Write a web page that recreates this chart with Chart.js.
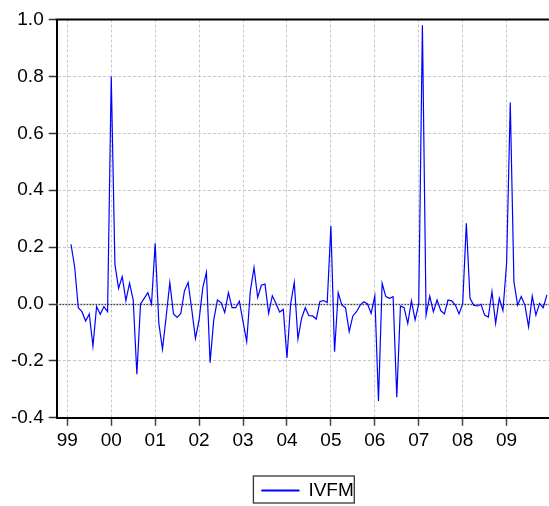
<!DOCTYPE html>
<html>
<head>
<meta charset="utf-8">
<title>IVFM</title>
<script src="https://cdn.jsdelivr.net/npm/chart.js@4.4.1/dist/chart.umd.min.js"></script>
<style>
    html, body { margin:0; padding:0; background:#fff; }
    #wrap { width:549px; height:506px; }
</style>
</head>
<body>
<div id="wrap"><canvas id="myChart" width="549" height="506"></canvas></div>
<script>
// x axis: one label per year, month 0 = 1999M01
var yearLabels = ['99','00','01','02','03','04','05','06','07','08','09']
var monthsPerYear = 12
// first observation is 1999M02
var firstMonth = 1

// IVFM, monthly, 1999M02 .. 2009M12
var ivfm = [
    0.21, 0.131, -0.013, -0.027, -0.06, -0.035, -0.148, -0.009, -0.036, -0.009, -0.027,          // 1999
    0.80, 0.14, 0.055, 0.096, 0.012, 0.073, 0.014, -0.247, 0.0, 0.02, 0.04, 0.0,                  // 2000
    0.213, -0.068, -0.159, -0.045, 0.075, -0.035, -0.047, -0.033, 0.046, 0.076, -0.02, -0.121,    // 2001
    -0.056, 0.057, 0.111, -0.206, -0.056, 0.014, 0.005, -0.03, 0.04, -0.013, -0.013, 0.01,        // 2002
    -0.062, -0.132, 0.046, 0.128, 0.023, 0.066, 0.07, -0.033, 0.029, 0.002, -0.028, -0.019,       // 2003
    -0.19, 0.0, 0.076, -0.123, -0.05, -0.013, -0.041, -0.042, -0.053, 0.009, 0.012, 0.005,        // 2004
    0.274, -0.168, 0.04, -0.004, -0.013, -0.097, -0.042, -0.027, -0.004, 0.008, 0.0, -0.033,      // 2005
    0.028, -0.341, 0.073, 0.026, 0.02, 0.026, -0.328, -0.007, -0.013, -0.068, 0.011, -0.056,      // 2006
    0.0, 0.98, -0.039, 0.028, -0.027, 0.014, -0.023, -0.035, 0.014, 0.011, -0.004, -0.035,        // 2007
    0.0, 0.284, 0.02, -0.004, -0.007, -0.001, -0.039, -0.046, 0.043, -0.068, 0.02, -0.023,        // 2008
    0.143, 0.708, 0.078, -0.004, 0.026, -0.004, -0.08, 0.028, -0.039, 0.002, -0.013, 0.032        // 2009
]

// y axis range
var yMin = -0.4
var yMax = 1.0
var yStep = 0.2

var points = ivfm.map(function(v, i){ return {x: firstMonth + i, y: v} })

Chart.defaults.font.family = "'Liberation Sans', Arial, sans-serif"
Chart.defaults.color = '#000'

// zero line, top border and the box round the legend
var frame = {
    id: 'frame',
    afterLayout: function(chart){
        chart.legend.left += 5
        chart.legend.right += 5
    },
    beforeDatasetsDraw: function(chart){
        var ctx = chart.ctx
        var a = chart.chartArea
        var y0 = Math.round(chart.scales.y.getPixelForValue(0)) + 0.5
        ctx.save()
        ctx.strokeStyle = '#cfcfcf'
        ctx.lineWidth = 2
        ctx.beginPath(); ctx.moveTo(a.left, y0); ctx.lineTo(a.right, y0); ctx.stroke()
        ctx.strokeStyle = '#000'
        ctx.lineWidth = 1
        ctx.setLineDash([1, 2])
        ctx.beginPath(); ctx.moveTo(a.left, y0); ctx.lineTo(a.right, y0); ctx.stroke()
        ctx.restore()
    },
    afterDraw: function(chart){
        var ctx = chart.ctx
        var a = chart.chartArea
        ctx.save()
        ctx.strokeStyle = '#000'
        ctx.lineWidth = 2
        ctx.beginPath(); ctx.moveTo(a.left - 1, a.top); ctx.lineTo(a.right, a.top); ctx.stroke()
        var hb = chart.legend.legendHitBoxes[0]
        if (hb) {
            var cy = hb.top + hb.height / 2
            ctx.strokeStyle = '#333'
            ctx.lineWidth = 1.3
            ctx.strokeRect(hb.left - 8.5, cy - 14.5, hb.width + 9, 27)
        }
        ctx.restore()
    }
}

var ctx = document.getElementById('myChart').getContext('2d')
var chart1 = new Chart(ctx, {
    type: 'line',
    plugins: [frame],
    data: {
        datasets: [{
            label: 'IVFM',
            data: points,
            borderColor: '#0000ff',
            backgroundColor: '#0000ff',
            borderWidth: 1.2,
            pointRadius: 0,
            tension: 0
        }]
    },
    options: {
        responsive: false,
        animation: false,
        devicePixelRatio: 1,
        layout: {
            padding: {left: 0, right: 0, top: 19.5, bottom: -4}
        },
        scales: {
            x: {
                type: 'linear',
                min: -2.9,
                max: 131.58,
                afterBuildTicks: function(scale){
                    scale.ticks = yearLabels.map(function(l, i){ return {value: i * monthsPerYear} })
                },
                afterFit: function(scale){ scale.height = 53.2 },
                ticks: {
                    autoSkip: false,
                    maxRotation: 0,
                    padding: 4,
                    font: {size: 19},
                    callback: function(v, i){ return yearLabels[i] }
                },
                grid: {
                    color: '#c8c8c8',
                    lineWidth: 1,
                    tickLength: 8,
                    tickColor: '#444',
                    tickWidth: 1.5
                },
                border: {display: true, color: '#000', width: 2, dash: [3, 2]}
            },
            y: {
                min: yMin,
                max: yMax,
                afterFit: function(scale){ scale.width = 56.7 },
                ticks: {
                    stepSize: yStep,
                    padding: 5,
                    font: {size: 19},
                    callback: function(v){ return Math.abs(v) < 1e-9 ? '0.0' : v.toFixed(1) }
                },
                grid: {
                    color: function(c){ return Math.abs(c.tick.value) < 1e-9 ? 'rgba(0,0,0,0)' : '#c8c8c8' },
                    lineWidth: 1,
                    tickLength: 8,
                    tickColor: '#333',
                    tickWidth: 1.5
                },
                border: {display: true, color: '#000', width: 2, dash: [3, 2]}
            }
        },
        plugins: {
            legend: {
                display: true,
                position: 'bottom',
                fullSize: false,
                labels: {
                    boxWidth: 37,
                    boxHeight: 1,
                    padding: 10,
                    color: '#000',
                    font: {size: 19}
                }
            },
            tooltip: {enabled: false}
        }
    }
})
</script>
</body>
</html>
